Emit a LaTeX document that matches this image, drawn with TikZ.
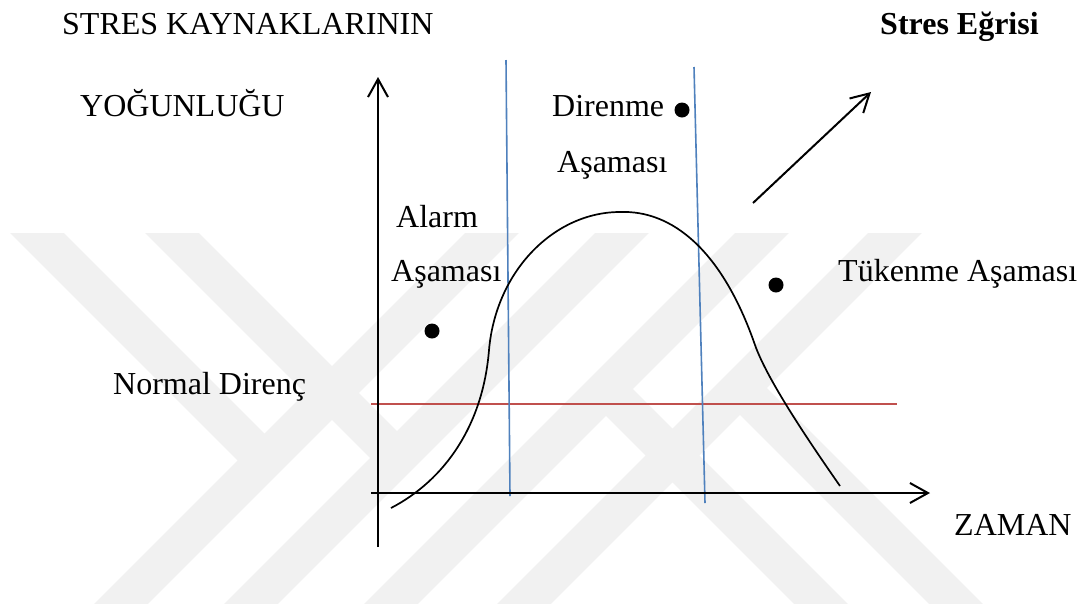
\documentclass[tikz,border=0pt]{standalone}
\usepackage{fontspec}
\setmainfont{Liberation Serif}
\usetikzlibrary{arrows.meta}
\definecolor{wm}{gray}{0.945}
\definecolor{redline}{HTML}{C0504D}
\definecolor{blueline}{HTML}{4F81BD}
\begin{document}
\begin{tikzpicture}[x=1pt,y=-1pt,
  font=\fontsize{32}{38}\selectfont,
  lbl/.style={anchor=base west, inner sep=0pt},
  band/.style={wm, line width=38pt},
  axisline/.style={line width=2pt, -{Straight Barb[length=18pt,width=20pt]}},
  bluel/.style={blueline, line width=1.6pt},
  redl/.style={redline, line width=1.6pt},
  curve/.style={black, line width=1.7pt},
  dot/.style={circle, fill=black, inner sep=0pt, minimum size=15pt}]
\useasboundingbox (0,0) rectangle (1083,606);
\fill[white] (0,0) rectangle (1083,606);
% watermark
\begin{scope}
\clip (0,233) rectangle (1083,603);
\draw[band] (17,213) -- (264.5,460.5);
\draw[band] (152,213) -- (397,458);
\draw[band] (512,213) -- (102,623);
\draw[band] (642,213) -- (232,623);
\draw[band] (782,213) -- (372,623);
\draw[band] (915,213) -- (505,623);
\draw[band] (740,388) -- (975,623);
\draw[band] (606,389) -- (840,623);
\end{scope}
% coordinates
\coordinate (yb) at (378,547);
\coordinate (yt) at (378,77);
\coordinate (xl) at (371,493);
\coordinate (xr) at (930,493);
\coordinate (rl) at (371,404);
\coordinate (rr) at (897,404);
\coordinate (b1t) at (506,60);
\coordinate (b1b) at (510,496);
\coordinate (b2t) at (694,67);
\coordinate (b2b) at (705,503);
\coordinate (as) at (753,203);
\coordinate (ae) at (871,92);
\coordinate (c0) at (391,508);
\coordinate (c1) at (489,350);
\coordinate (c2) at (620,212);
\coordinate (c3) at (755,345);
\coordinate (c4) at (840,486);
% lines
\draw[redl] (rl) -- (rr);
\draw[bluel] (b1t) -- (b1b);
\draw[bluel] (b2t) -- (b2b);
\draw[curve] (c0) .. controls (445,480) and (483,425) .. (c1)
  .. controls (496,270) and (555,212) .. (c2)
  .. controls (672,210) and (722,250) .. (c3)
  .. controls (768,382) and (815,450) .. (c4);
\draw[axisline] (yb) -- (yt);
\draw[axisline] (xl) -- (xr);
\draw[axisline] (as) -- (ae);
% dots
\node[dot] (d1) at (432,331) {};
\node[dot] (d2) at (682,110) {};
\node[dot] (d3) at (776,285) {};
% labels
\node[lbl] (t1) at (62,34) {STRES KAYNAKLARININ};
\node[lbl] (t2) at (880,34) {\bfseries Stres Eğrisi};
\node[lbl] (t3) at (80,116) {YOĞUNLUĞU};
\node[lbl] (t4) at (552,116) {Direnme};
\node[lbl] (t5) at (557,172) {Aşaması};
\node[lbl] (t6) at (396,227) {Alarm};
\node[lbl] (t7) at (391,281) {Aşaması};
\node[lbl] (t8) at (838,281) {Tükenme Aşaması};
\node[lbl] (t9) at (113,394) {Normal Direnç};
\node[lbl] (t10) at (954,535) {ZAMAN};
\end{tikzpicture}
\end{document}
